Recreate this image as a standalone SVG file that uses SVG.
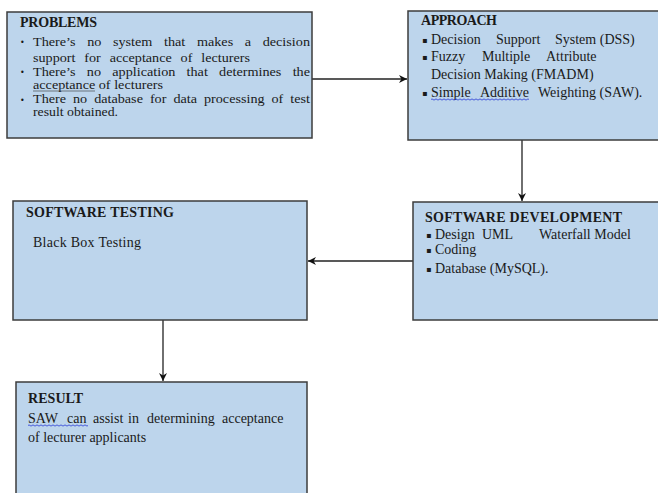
<svg xmlns="http://www.w3.org/2000/svg" width="658" height="493" viewBox="0 0 658 493">
<style>
.box{fill:#bdd5ec;stroke:#3c3c3c;stroke-width:1.5}
.h{font-family:"Liberation Serif","Times New Roman",serif;font-weight:bold;font-size:14px;fill:#1a1a1a}
.t{font-family:"Liberation Serif","Times New Roman",serif;font-size:14px;fill:#1a1a1a}
.p{font-family:"Liberation Serif","Times New Roman",serif;font-size:12px;fill:#1a1a1a}
.b{font-family:"DejaVu Sans","Liberation Serif",sans-serif;font-size:8px;fill:#1a1a1a}
.c{fill:none;stroke:#222;stroke-width:1.3}
.w{fill:none;stroke:#2a3bd6;stroke-width:0.8}
</style>
<defs>
<marker id="ah" viewBox="0 0 10 10" refX="10" refY="5" markerWidth="8" markerHeight="8" markerUnits="userSpaceOnUse" orient="auto">
<path d="M0,0 L10,5 L0,10 L3,5 z" fill="#111"/>
</marker>
</defs>
<rect width="658" height="493" fill="#ffffff"/>

<g id="connectors">
<line class="c" x1="312" y1="79" x2="407" y2="79" marker-end="url(#ah)"/>
<line class="c" x1="522" y1="140" x2="522" y2="201" marker-end="url(#ah)"/>
<line class="c" x1="413" y1="261" x2="308" y2="261" marker-end="url(#ah)"/>
<line class="c" x1="163" y1="320" x2="163" y2="381" marker-end="url(#ah)"/>
</g>

<g id="problems">
<rect class="box" x="7" y="12" width="305" height="126"/>
<text class="h" x="20" y="27" textLength="77">PROBLEMS</text>
<text class="b" x="20" y="45">•</text>
<text class="p" x="33" y="46" word-spacing="6.8" textLength="277" lengthAdjust="spacingAndGlyphs">There’s no system that makes a decision</text>
<text class="p" x="33" y="62" word-spacing="4.5" textLength="217" lengthAdjust="spacingAndGlyphs">support for acceptance of lecturers</text>
<text class="b" x="20" y="75">•</text>
<text class="p" x="33" y="76" word-spacing="6.5" textLength="277" lengthAdjust="spacingAndGlyphs">There’s no application that determines the</text>
<text class="p" x="33" y="89" textLength="130" lengthAdjust="spacingAndGlyphs">acceptance of lecturers</text>
<line x1="33" y1="91" x2="95" y2="91" stroke="#333" stroke-width="0.6"/>
<text class="b" x="20" y="103">•</text>
<text class="p" x="33" y="103" word-spacing="2.9" textLength="277" lengthAdjust="spacingAndGlyphs">There no database for data processing of test</text>
<text class="p" x="33" y="116" textLength="85" lengthAdjust="spacingAndGlyphs">result obtained.</text>
</g>

<g id="approach">
<rect class="box" x="408" y="11" width="255" height="129"/>
<text class="h" x="421" y="25" textLength="76">APPROACH</text>
<text class="b" x="422" y="43">▪</text>
<text class="t" y="44"><tspan x="431">Decision</tspan><tspan x="496">Support</tspan><tspan x="555">System (DSS)</tspan></text>
<text class="b" x="422" y="60">▪</text>
<text class="t" y="61"><tspan x="431">Fuzzy</tspan><tspan x="482">Multiple</tspan><tspan x="546">Attribute</tspan></text>
<text class="t" x="431" y="79">Decision Making (FMADM)</text>
<text class="b" x="422" y="96">▪</text>
<text class="t" y="97"><tspan x="431">Simple</tspan><tspan x="480">Additive</tspan><tspan x="538">Weighting (SAW).</tspan></text>
<path class="w" d="M431,99.5 q1,-1.2 2,0 t2,0 t2,0 t2,0 t2,0 t2,0 t2,0 t2,0 t2,0 t2,0 t2,0 t2,0 t2,0 t2,0 t2,0 t2,0 t2,0 t2,0 t2,0 t2,0 t2,0 t2,0 t2,0 t2,0 t2,0 t2,0 t2,0 t2,0 t2,0 t2,0 t2,0 t2,0 t2,0 t2,0 t2,0 t2,0 t2,0 t2,0 t2,0 t2,0 t2,0 t2,0 t2,0 t2,0 t2,0 t2,0 t2,0 t2,0 t2,0"/>
</g>

<g id="software-development">
<rect class="box" x="413" y="202" width="250" height="118"/>
<text class="h" x="425" y="222" textLength="197">SOFTWARE DEVELOPMENT</text>
<text class="b" x="426" y="238">▪</text>
<text class="t" y="239"><tspan x="435">Design</tspan><tspan x="482">UML</tspan><tspan x="539">Waterfall Model</tspan></text>
<text class="b" x="426" y="253">▪</text>
<text class="t" x="435" y="254">Coding</text>
<text class="b" x="426" y="272">▪</text>
<text class="t" x="435" y="273">Database (MySQL).</text>
</g>

<g id="software-testing">
<rect class="box" x="13" y="201" width="294" height="119"/>
<text class="h" x="26" y="217" textLength="148">SOFTWARE  TESTING</text>
<text class="t" x="33" y="247" textLength="108" lengthAdjust="spacing">Black Box Testing</text>
</g>

<g id="result">
<rect class="box" x="16" y="382" width="291" height="120"/>
<text class="h" x="28" y="403" textLength="55">RESULT</text>
<text class="t" y="423"><tspan x="28">SAW</tspan><tspan x="67">can</tspan><tspan x="93">assist</tspan><tspan x="128">in</tspan><tspan x="147">determining</tspan><tspan x="222">acceptance</tspan></text>
<path class="w" d="M28,425.5 q1,-1.2 2,0 t2,0 t2,0 t2,0 t2,0 t2,0 t2,0 t2,0 t2,0 t2,0 t2,0 t2,0 t2,0 t2,0 t2,0 t2,0 t2,0 t2,0 t2,0 t2,0 t2,0 t2,0 t2,0 t2,0 t2,0 t2,0 t2,0 t2,0 t2,0 t2,0"/>
<text class="t" x="28" y="442">of lecturer applicants</text>
</g>
</svg>
